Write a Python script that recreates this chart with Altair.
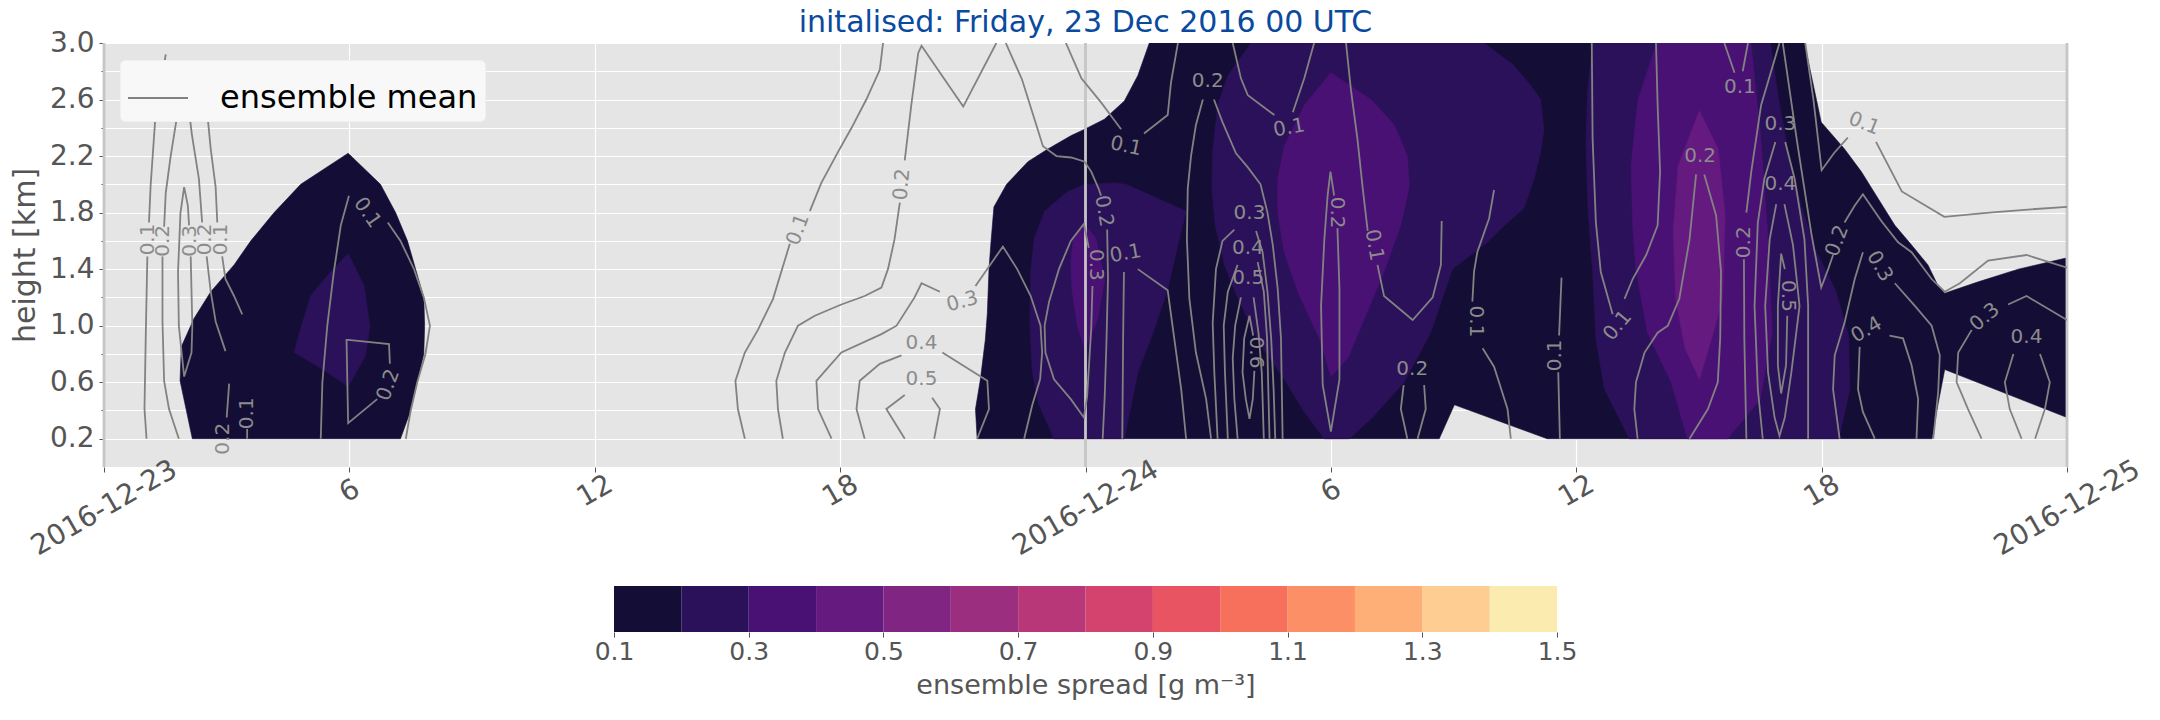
import altair as alt
import pandas as pd

TITLE = "initalised: Friday, 23 Dec 2016 00 UTC"
Y_TITLE = "height [km]"
CBAR_TITLE = "ensemble spread [g m⁻³]"
LEGEND_LABEL = "ensemble mean"

DATE_TICKS = [0, 24, 48]
DATE_LABELS = ["2016-12-23", "2016-12-24", "2016-12-25"]
HOUR_TICKS = [6, 12, 18, 30, 36, 42]
HOUR_LABELS = ["6", "12", "18", "6", "12", "18"]
Y_MAJOR = [0.2, 0.6, 1.0, 1.4, 1.8, 2.2, 2.6, 3.0]
Y_MINOR = [0.4, 0.8, 1.2, 1.6, 2.0, 2.4, 2.8]
DAY_LINES = [0, 24, 48]

SPREAD_LEVELS = [0.1, 0.2, 0.3, 0.4, 0.5, 0.6, 0.7, 0.8, 0.9, 1.0, 1.1, 1.2, 1.3, 1.4, 1.5]
SPREAD_TICKS = [0.1, 0.3, 0.5, 0.7, 0.9, 1.1, 1.3, 1.5]
SPREAD_COLORS = ["#140e36", "#2b1159", "#4a1174", "#651a80", "#802582", "#9c2e7f",
                 "#b73779", "#d3436e", "#e95462", "#f6705c", "#fc8f65", "#feae77",
                 "#fdcd91", "#fcebaf"]

# filled spread regions, (hours since init, height km)
SPREAD_01_02 = [
    [(2.16, 0.2), (1.86, 0.61), (1.89, 0.85), (2.20, 1.05), (2.61, 1.24), (3.18, 1.43), (3.59, 1.60),
     (4.16, 1.80), (4.81, 2.00), (5.97, 2.22), (6.76, 2.00), (7.13, 1.80), (7.42, 1.60), (7.62, 1.40),
     (7.82, 1.20), (7.84, 1.00), (7.82, 0.80), (7.66, 0.60), (7.50, 0.40), (7.25, 0.2)],
    [(21.35, 0.2), (21.31, 0.41), (21.43, 0.62), (21.55, 0.9), (21.60, 1.09), (21.64, 1.40), (21.68, 1.56),
     (21.76, 1.84), (22.07, 2.0), (22.59, 2.16), (23.08, 2.25), (23.65, 2.345), (23.98, 2.39), (24.46, 2.46),
     (24.95, 2.59), (25.28, 2.77), (25.56, 3.0), (41.58, 3.0), (41.99, 2.44), (42.56, 2.25), (42.97, 2.09),
     (43.38, 1.90), (43.79, 1.71), (44.20, 1.57), (44.60, 1.43), (44.85, 1.28), (45.01, 1.23), (45.83, 1.31),
     (46.81, 1.40), (48.0, 1.48), (48.0, 0.35), (45.01, 0.69), (44.85, 0.45), (44.70, 0.2), (35.29, 0.2),
     (33.02, 0.44), (32.65, 0.2)],
]
SPREAD_02_03 = [
    [(5.97, 1.51), (6.36, 1.28), (6.50, 1.0), (6.40, 0.79), (5.97, 0.57), (5.30, 0.70), (4.65, 0.81),
     (4.81, 0.98), (5.05, 1.21), (5.54, 1.38)],
    [(23.23, 0.2), (22.85, 0.45), (22.70, 0.67), (22.64, 1.0), (22.66, 1.38), (22.74, 1.61), (23.0, 1.81),
     (23.57, 1.95), (23.98, 2.0), (24.71, 2.01), (24.99, 2.0), (26.46, 1.81), (26.26, 1.57), (26.01, 1.26),
     (25.69, 0.98), (25.28, 0.67), (24.95, 0.2)],
    [(28.05, 3.0), (27.48, 2.77), (27.23, 2.56), (27.11, 2.23), (27.09, 1.97), (27.17, 1.71), (27.40, 1.43),
     (27.76, 1.17), (28.29, 0.86), (28.86, 0.62), (29.35, 0.39), (29.84, 0.2), (30.45, 0.2), (30.98, 0.34),
     (31.79, 0.60), (32.44, 0.95), (32.97, 1.40), (33.83, 1.59), (34.32, 1.73), (34.72, 1.83), (34.97, 2.04),
     (35.13, 2.23), (35.21, 2.39), (35.13, 2.60), (34.89, 2.70), (34.48, 2.84), (34.07, 2.93), (33.75, 3.0)],
    [(36.40, 3.0), (36.28, 2.67), (36.24, 2.32), (36.28, 1.85), (36.40, 1.38), (36.48, 0.91), (36.69, 0.55),
     (37.30, 0.2), (42.42, 0.2), (42.69, 0.55), (42.66, 0.93), (42.34, 1.25), (41.83, 1.55), (41.50, 1.85),
     (41.20, 2.20), (40.95, 2.60), (40.75, 3.0)],
]
SPREAD_03_04 = [
    [(23.69, 1.60), (23.96, 1.72), (24.25, 1.62), (24.47, 1.33), (24.30, 1.05), (24.10, 0.90), (23.96, 0.85),
     (23.80, 1.0), (23.67, 1.25), (23.64, 1.45)],
    [(30.0, 2.79), (30.98, 2.60), (31.55, 2.42), (31.87, 2.20), (31.92, 1.99), (31.71, 1.71), (31.30, 1.38),
     (30.82, 1.05), (30.41, 0.77), (30.0, 0.64), (29.72, 0.91), (29.19, 1.24), (28.86, 1.52), (28.70, 1.80),
     (28.70, 2.04), (28.86, 2.27), (29.35, 2.56)],
    [(37.97, 3.0), (37.51, 2.60), (37.34, 2.13), (37.38, 1.70), (37.45, 1.42), (37.74, 0.95), (38.32, 0.60),
     (38.72, 0.2), (39.70, 0.2), (40.50, 0.48), (40.79, 0.95), (40.68, 1.66), (40.50, 2.37), (40.27, 3.0)],
]
SPREAD_04_05 = [
    [(39.01, 2.52), (39.47, 2.25), (39.64, 1.78), (39.58, 1.19), (39.35, 0.95), (39.01, 0.62), (38.66, 0.84),
     (38.43, 1.19), (38.37, 1.66), (38.49, 2.13)],
]

# ensemble-mean contour lines (hours, km)
MEAN_LINES_DAY1_EARLY = [
    [(1.51, 2.92), (1.26, 2.49), (1.14, 1.99), (1.10, 1.73)],
    [(1.06, 1.49), (1.02, 0.91), (0.99, 0.41), (1.04, 0.2)],
    [(1.96, 2.73), (1.78, 2.47), (1.63, 2.20), (1.51, 1.94), (1.47, 1.70)],
    [(1.43, 1.49), (1.43, 1.03), (1.47, 0.61), (1.59, 0.41), (1.83, 0.2)],
    [(2.12, 1.49), (2.16, 1.00), (2.14, 0.81), (1.96, 0.64), (1.83, 1.00), (1.81, 1.38), (1.87, 1.80),
     (1.96, 1.98), (2.05, 1.85), (2.08, 1.71)],
    [(2.05, 2.59), (2.15, 2.35), (2.32, 2.04), (2.40, 1.73)],
    [(2.51, 1.49), (2.61, 1.24), (2.73, 1.03), (2.97, 0.82)],
    [(2.53, 2.49), (2.61, 2.25), (2.73, 1.98), (2.77, 1.73)],
    [(2.89, 1.49), (2.97, 1.33), (3.18, 1.21), (3.38, 1.08)],
    [(3.06, 0.59), (3.00, 0.35)],
    [(3.50, 0.2), (3.50, 0.27)],
    [(5.30, 0.2), (5.34, 0.60), (5.46, 1.00), (5.62, 1.38), (5.79, 1.71), (5.99, 1.92)],
    [(6.94, 1.73), (7.25, 1.60), (7.58, 1.40), (7.82, 1.20), (7.97, 1.00), (7.86, 0.80), (7.66, 0.60),
     (7.50, 0.40), (7.38, 0.2)],
    [(6.99, 0.73), (6.97, 0.87), (5.97, 0.90), (5.93, 0.90), (5.97, 0.31), (6.68, 0.48)],
]
MEAN_LINES_DAY1_LATE = [
    [(15.67, 0.2), (15.50, 0.41), (15.44, 0.61), (15.67, 0.81), (15.99, 0.97), (16.36, 1.19), (16.77, 1.58)],
    [(17.26, 1.81), (17.54, 2.01), (17.95, 2.23), (18.28, 2.40), (18.64, 2.60), (18.97, 2.81), (19.05, 3.0)],
    [(16.60, 0.2), (16.48, 0.41), (16.44, 0.61), (16.65, 0.81), (16.97, 1.0), (17.38, 1.07), (18.03, 1.15),
     (18.60, 1.21), (19.01, 1.27), (19.17, 1.40), (19.33, 1.61), (19.46, 1.87)],
    [(19.58, 2.17), (19.74, 2.56), (19.91, 2.93), (19.99, 2.98), (21.01, 2.55), (21.82, 3.0)],
    [(17.79, 0.2), (17.46, 0.41), (17.42, 0.61), (18.03, 0.81), (19.01, 0.94), (19.38, 1.0), (19.82, 1.20),
     (19.99, 1.30), (20.44, 1.24)],
    [(21.31, 1.28), (21.98, 1.56), (22.33, 1.40), (22.66, 1.21), (22.90, 1.0), (22.94, 0.81), (22.89, 0.62),
     (22.70, 0.44), (22.50, 0.2)],
    [(24.08, 1.55), (23.96, 1.72), (23.64, 1.60), (23.35, 1.40), (23.11, 1.17), (23.0, 1.0), (23.02, 0.81),
     (23.23, 0.62), (23.64, 0.48), (23.96, 0.35), (24.04, 0.50), (24.14, 0.98), (24.17, 1.28)],
    [(20.50, 0.81), (21.60, 0.61), (21.64, 0.41), (21.35, 0.2)],
    [(18.60, 0.2), (18.40, 0.41), (18.48, 0.61), (18.97, 0.73), (19.50, 0.79)],
    [(19.58, 0.2), (19.13, 0.41), (19.58, 0.51)],
    [(20.25, 0.49), (20.44, 0.41), (20.30, 0.2)],
    [(23.52, 3.0), (23.90, 2.75), (24.38, 2.58), (24.87, 2.39)],
    [(22.05, 3.0), (22.45, 2.74), (22.96, 2.27), (23.29, 2.20), (23.65, 2.19), (23.98, 2.16), (24.14, 2.09),
     (24.32, 1.97), (24.38, 1.92)],
]
MEAN_LINES_DAY2_EARLY = [
    [(25.43, 2.36), (26.01, 2.49), (26.09, 2.72), (26.26, 3.0)],
    [(24.53, 1.68), (24.55, 1.33), (24.51, 0.86), (24.47, 0.50), (24.42, 0.2)],
    [(24.90, 0.2), (24.92, 0.91), (24.94, 1.38)],
    [(25.28, 1.40), (26.01, 1.25), (26.17, 0.91), (26.34, 0.55), (26.46, 0.2)],
    [(27.07, 0.2), (26.95, 0.48), (26.70, 0.81), (26.54, 1.19), (26.48, 1.61), (26.50, 1.97), (26.58, 2.20),
     (26.70, 2.42), (26.87, 2.60)],
    [(27.14, 2.60), (27.35, 2.44), (27.68, 2.22), (27.97, 2.12), (28.28, 2.0), (28.45, 1.80), (28.58, 1.57),
     (28.70, 1.26), (28.78, 0.91), (28.82, 0.2)],
    [(27.64, 1.68), (27.35, 1.60), (27.19, 1.40), (27.11, 1.02), (27.15, 0.67), (27.23, 0.2)],
    [(28.17, 1.67), (28.33, 1.52), (28.45, 1.24), (28.54, 0.91), (28.60, 0.55), (28.64, 0.2)],
    [(27.72, 1.43), (27.48, 1.24), (27.38, 1.0), (27.41, 0.67), (27.48, 0.2)],
    [(28.21, 1.45), (28.36, 1.24), (28.44, 0.91), (28.47, 0.55), (28.50, 0.2)],
    [(27.80, 1.20), (27.66, 1.0), (27.60, 0.77), (27.64, 0.48), (27.72, 0.2)],
    [(28.11, 1.20), (28.23, 0.95), (28.31, 0.67), (28.36, 0.2)],
    [(28.13, 0.68), (28.09, 0.48), (28.01, 0.34), (27.92, 0.48), (27.84, 0.67), (27.88, 0.91), (28.01, 1.07),
     (28.10, 0.93)],
    [(27.60, 3.0), (27.80, 2.75), (27.97, 2.63), (28.62, 2.49)],
    [(29.07, 2.51), (29.35, 2.75), (29.59, 3.0)],
    [(30.37, 3.0), (30.49, 2.67), (30.65, 2.32), (30.78, 1.97), (30.90, 1.67)],
    [(31.14, 1.43), (31.30, 1.21), (32.0, 1.04), (32.49, 1.20), (32.69, 1.43), (32.71, 1.74)],
    [(30.08, 1.92), (29.99, 2.09), (29.92, 1.92), (29.84, 1.61), (29.76, 1.14), (29.80, 0.58), (30.0, 0.25),
     (30.21, 0.62), (30.21, 1.26), (30.16, 1.69)],
    [(31.78, 0.58), (31.71, 0.41), (31.87, 0.2)],
    [(32.28, 0.58), (32.32, 0.41), (32.12, 0.2)],
    [(33.99, 1.96), (33.87, 1.76), (33.58, 1.52), (33.50, 1.38), (33.46, 1.17)],
    [(33.71, 0.84), (33.99, 0.71), (34.32, 0.41), (34.40, 0.2)],
    [(35.64, 1.34), (35.58, 0.93)],
    [(35.56, 0.67), (35.60, 0.2)],
]
MEAN_LINES_DAY2_LATE = [
    [(36.38, 3.0), (36.40, 2.32), (36.48, 1.73), (36.60, 1.38), (36.89, 1.08)],
    [(37.18, 1.19), (37.38, 1.33), (37.71, 1.50), (37.99, 1.71), (38.05, 2.09), (37.99, 2.56), (37.95, 3.0)],
    [(38.93, 2.07), (38.77, 1.61), (38.52, 1.19), (38.24, 1.0), (37.99, 0.95), (37.67, 0.81), (37.46, 0.60),
     (37.42, 0.41), (37.50, 0.2)],
    [(39.13, 2.07), (39.42, 1.78), (39.54, 1.38), (39.52, 0.91), (39.46, 0.60), (39.22, 0.41), (38.77, 0.2)],
    [(39.62, 3.0), (39.87, 2.79)],
    [(40.20, 3.0), (40.07, 2.80)],
    [(40.97, 3.0), (40.52, 2.56), (40.28, 2.09), (40.16, 1.80)],
    [(40.10, 1.47), (40.11, 0.91), (40.16, 0.2)],
    [(40.87, 2.30), (40.60, 2.04), (40.44, 1.73), (40.36, 1.14), (40.44, 0.55), (40.56, 0.2)],
    [(41.11, 2.30), (41.34, 2.04), (41.58, 1.61), (41.67, 1.14), (41.67, 0.2)],
    [(40.89, 1.86), (40.73, 1.61), (40.62, 1.14), (40.69, 0.67), (40.85, 0.35), (40.97, 0.22), (41.10, 0.35),
     (41.26, 0.67), (41.46, 1.14), (41.30, 1.57), (41.09, 1.86)],
    [(41.16, 1.07), (41.13, 0.72), (41.01, 0.52), (40.93, 0.72), (40.93, 1.14), (41.01, 1.51), (41.10, 1.40)],
    [(41.60, 3.0), (41.80, 2.60), (42.0, 2.10), (42.30, 2.22), (42.64, 2.33)],
    [(43.33, 2.30), (43.96, 1.95), (45.0, 1.77), (46.10, 1.80), (46.96, 1.82), (48.0, 1.84)],
    [(41.05, 3.0), (41.40, 2.30), (41.75, 1.65), (41.99, 1.27), (42.16, 1.40), (42.28, 1.50)],
    [(42.56, 1.73), (42.81, 1.85), (43.01, 1.93), (43.46, 1.74), (43.87, 1.59), (44.20, 1.52), (44.69, 1.33),
     (45.01, 1.24), (45.38, 1.30), (46.07, 1.46), (47.01, 1.50), (48.0, 1.41)],
    [(42.44, 0.2), (42.28, 0.55), (42.32, 0.79), (42.56, 1.02), (42.81, 1.33), (43.01, 1.52)],
    [(43.79, 1.30), (44.28, 1.14), (44.69, 1.0), (44.89, 0.79), (44.85, 0.53), (44.73, 0.2)],
    [(42.93, 0.85), (42.89, 0.55), (43.01, 0.39), (43.30, 0.2)],
    [(43.66, 0.93), (43.99, 0.91), (44.20, 0.72), (44.36, 0.48), (44.32, 0.2)],
    [(45.67, 0.97), (45.34, 0.81), (45.30, 0.60), (45.58, 0.41), (45.91, 0.2)],
    [(46.56, 1.15), (47.01, 1.21), (48.0, 1.04)],
    [(46.69, 0.80), (46.48, 0.60), (46.60, 0.41), (46.89, 0.2)],
    [(47.34, 0.80), (47.58, 0.60), (47.46, 0.41), (47.22, 0.2)],
]

# contour labels: text, hours, km, rotation
MEAN_LABELS = [
    ("0.1", 1.08, 1.61, 270), ("0.2", 1.45, 1.60, 270), ("0.3", 2.10, 1.60, 270),
    ("0.2", 2.46, 1.61, 270), ("0.1", 2.85, 1.61, 270), ("0.2", 2.90, 0.20, 270),
    ("0.1", 3.50, 0.38, 270), ("0.1", 6.44, 1.80, 55), ("0.2", 6.95, 0.58, 290),
    ("0.1", 16.97, 1.68, 290), ("0.2", 19.51, 2.00, 275), ("0.3", 20.99, 1.17, 345),
    ("0.4", 19.99, 0.88, 0), ("0.5", 19.99, 0.62, 0), ("0.1", 24.99, 2.27, 12),
    ("0.2", 24.45, 1.81, 80), ("0.3", 24.25, 1.43, 90), ("0.1", 24.98, 1.51, 350),
    ("0.2", 26.99, 2.73, 0), ("0.3", 28.01, 1.80, 0), ("0.4", 27.97, 1.55, 0),
    ("0.5", 27.98, 1.34, 0), ("0.6", 28.17, 0.81, 90), ("0.1", 28.98, 2.40, 350),
    ("0.1", 31.06, 1.57, 80), ("0.2", 30.14, 1.80, 90), ("0.2", 31.99, 0.69, 0),
    ("0.1", 33.54, 1.03, 90), ("0.1", 35.49, 0.79, 270), ("0.1", 37.01, 1.00, 310),
    ("0.2", 39.03, 2.20, 0), ("0.1", 40.00, 2.69, 0), ("0.2", 40.10, 1.59, 270),
    ("0.3", 40.99, 2.43, 0), ("0.4", 40.99, 2.00, 0), ("0.5", 41.19, 1.21, 90),
    ("0.1", 43.04, 2.43, 22), ("0.2", 42.38, 1.60, 290), ("0.3", 43.42, 1.42, 60),
    ("0.4", 43.10, 0.97, 330), ("0.3", 45.99, 1.06, 320), ("0.4", 47.01, 0.92, 0),
]

# ---------------------------------------------------------------- tables
poly_tables = []
for lvl, polys in enumerate([SPREAD_01_02, SPREAD_02_03, SPREAD_03_04, SPREAD_04_05]):
    rows = []
    for p, poly in enumerate(polys):
        for i, (h, z) in enumerate(poly):
            rows.append({"poly": f"{lvl}-{p}", "i": i, "h": h, "km": z})
    poly_tables.append(pd.DataFrame(rows))

line_rows = []
sid = 0
for group in [MEAN_LINES_DAY1_EARLY, MEAN_LINES_DAY1_LATE, MEAN_LINES_DAY2_EARLY, MEAN_LINES_DAY2_LATE]:
    for seg in group:
        for i, (h, z) in enumerate(seg):
            line_rows.append({"seg": sid, "i": i, "h": h, "km": z, "series": LEGEND_LABEL})
        sid += 1
lines_df = pd.DataFrame(line_rows)
labels_df = pd.DataFrame(MEAN_LABELS, columns=["t", "h", "km", "ang"])
day_df = pd.DataFrame({"h": DAY_LINES})
cbar_df = pd.DataFrame({"lo": SPREAD_LEVELS[:-1], "hi": SPREAD_LEVELS[1:], "col": SPREAD_COLORS})

FONT = "DejaVu Sans"
xs = alt.Scale(domain=[0, 48], nice=False, zero=False)
ys = alt.Scale(domain=[0, 3], nice=False, zero=False)


def js_list(vals):
    return "[" + ",".join(repr(v) for v in vals) + "]"


hour_axis = alt.Axis(orient="bottom", values=HOUR_TICKS,
                     labelExpr=f"{js_list(HOUR_LABELS)}[indexof({js_list(HOUR_TICKS)}, datum.value)]",
                     labelAngle=330, labelAlign="center", labelBaseline="middle", labelFontSize=28,
                     labelPadding=19, tickSize=5, grid=True, title=None, labelFlush=False, labelOverlap=False)
date_axis = alt.Axis(orient="bottom", values=DATE_TICKS,
                     labelExpr=f"{js_list(DATE_LABELS)}[indexof({js_list(DATE_TICKS)}, datum.value)]",
                     labelAngle=330, labelAlign="center", labelBaseline="middle", labelFontSize=28,
                     labelPadding=36, tickSize=5, grid=False, title=None, labelFlush=False, labelOverlap=False)
y_major = alt.Axis(orient="left", values=Y_MAJOR, format=".1f", labelFontSize=28, labelPadding=5, tickSize=5,
                   grid=True, title=Y_TITLE, titleFontSize=30, titleFontWeight="normal", titlePadding=9)
y_minor = alt.Axis(orient="left", values=Y_MINOR, labels=False, tickSize=3, grid=True, title=None)

layers = []
for lvl, df in enumerate(poly_tables):
    col = SPREAD_COLORS[lvl]
    xa = hour_axis if lvl == 0 else None
    ya = y_major if lvl == 0 else (y_minor if lvl == 1 else None)
    layers.append(
        alt.Chart(df).mark_line(filled=True, fill=col, stroke=col, strokeWidth=0.6,
                                interpolate="linear-closed", clip=True).encode(
            x=alt.X("h:Q", scale=xs, axis=xa),
            y=alt.Y("km:Q", scale=ys, axis=ya),
            detail="poly:N",
            order=alt.Order("i:Q"),
        )
    )

layers.append(
    alt.Chart(day_df).mark_rule(color="#c6c6c6", strokeWidth=2.8).encode(
        x=alt.X("h:Q", scale=xs, axis=date_axis)
    )
)

layers.append(
    alt.Chart(lines_df).mark_line(strokeWidth=1.8, clip=True).encode(
        x=alt.X("h:Q", scale=xs, axis=None),
        y=alt.Y("km:Q", scale=ys, axis=None),
        detail="seg:N",
        order=alt.Order("i:Q"),
        color=alt.Color("series:N", scale=alt.Scale(domain=[LEGEND_LABEL], range=["#828282"]),
                        legend=alt.Legend(title=None, orient="none", legendX=16, legendY=17,
                                          fillColor="#f8f8f8", strokeColor="#f0f0f0", cornerRadius=5,
                                          padding=7, symbolType="stroke", symbolSize=3600,
                                          symbolStrokeWidth=2, labelFontSize=32, labelFont=FONT,
                                          labelColor="black", labelOffset=31, labelLimit=600)),
    )
)

layers.append(
    alt.Chart(labels_df).mark_text(font=FONT, fontSize=20, color="#8c8c8c", align="center",
                                   baseline="middle").encode(
        x=alt.X("h:Q", scale=xs, axis=None),
        y=alt.Y("km:Q", scale=ys, axis=None),
        text="t:N",
        angle=alt.Angle("ang:Q", scale=None),
    )
)

main = alt.layer(*layers).resolve_axis(x="independent", y="independent").properties(
    width=1963, height=424,
    title=alt.Title(TITLE, fontSize=30, font=FONT, fontWeight="normal", color="#0a4a9e",
                    anchor="middle", frame="group", offset=-9),
)

cbar = alt.Chart(cbar_df).mark_rect().encode(
    x=alt.X("lo:Q", scale=alt.Scale(domain=[SPREAD_LEVELS[0], SPREAD_LEVELS[-1]], nice=False, zero=False),
            axis=alt.Axis(values=SPREAD_TICKS, format=".1f", labelFontSize=25, tickSize=5, labelPadding=2,
                          grid=False, title=CBAR_TITLE, titleFontSize=27, titleFontWeight="normal",
                          titlePadding=8, labelFlush=False)),
    x2="hi:Q",
    color=alt.Color("col:N", scale=None),
).properties(width=943, height=46)

chart = alt.vconcat(main, cbar, spacing=119, center=True, bounds="flush").properties(
    padding={"left": 10, "top": 8, "right": 5, "bottom": 5},
    background="white",
).configure_axis(
    labelFont=FONT, titleFont=FONT, labelColor="#555555", titleColor="#555555",
    tickColor="#555555", domain=False, gridColor="white", gridWidth=1.2,
).configure_view(stroke=None, fill="#E5E5E5")

chart.save("out.html", embed_options={"renderer": "svg", "actions": False})
